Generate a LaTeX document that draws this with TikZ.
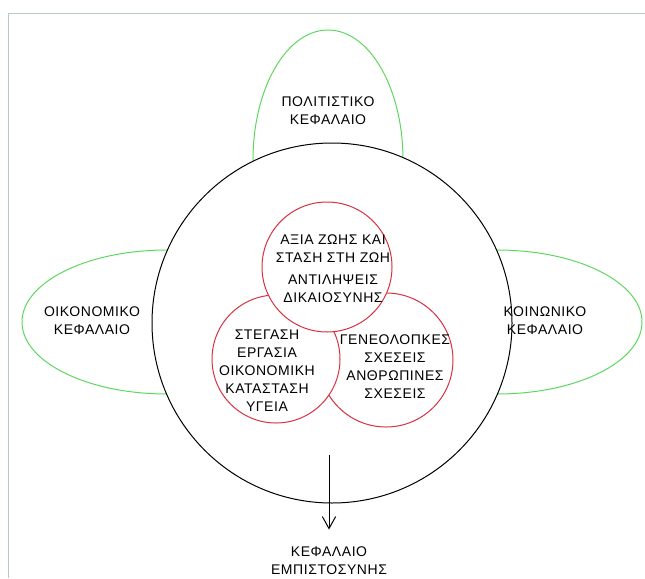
\documentclass[tikz,border=0pt]{standalone}
\usepackage{fontspec}
\setmainfont{Liberation Sans}[LetterSpace=4]
\usetikzlibrary{arrows.meta}

\definecolor{capgreen}{RGB}{95,215,95}
\definecolor{corered}{RGB}{215,50,65}
\definecolor{framegray}{RGB}{180,205,190}

\tikzset{every picture/.style={line width=0.75pt}}
\tikzset{
  lbl/.style={align=center, inner sep=0.75pt, font=\fontsize{10.5}{13.5}\selectfont},
  core/.style={circle, draw=corered, fill=white, inner sep=0pt},
}

\begin{document}
\begin{tikzpicture}[x=0.75pt,y=0.75pt,yscale=-1,xscale=1]
\useasboundingbox (0,0) rectangle (645,578);

%Frame
\draw [framegray] (645,13) -- (8,13) -- (8,578) ;

%Capitals (green)
\draw [capgreen] (328,160) ellipse [x radius=75, y radius=130] ;
\draw [capgreen] (167,322) ellipse [x radius=145, y radius=72] ;
\draw [capgreen] (497,322) ellipse [x radius=145, y radius=72] ;

%Big circle
\node [circle, draw, fill=white, inner sep=0pt, minimum size=270pt] (soc) at (332,323) {};

%Red circles
\node [core, minimum size=100.5pt] (rel) at (386,360) {};
\node [core, minimum size=96pt] (liv) at (276,359) {};
\node [core, minimum size=97.5pt] (val) at (327,267) {};

% Text Node
\node [lbl] (valt) at (333,269) {ΑΞΙΑ ΖΩΗΣ ΚΑΙ\\ΣΤΑΣΗ ΣΤΗ ΖΩΗ\\[3pt]ΑΝΤΙΛΗΨΕΙΣ\\ΔΙΚΑΙΟΣΥΝΗΣ};
% Text Node
\node [lbl] (livt) at (267,371) {ΣΤΕΓΑΣΗ\\ΕΡΓΑΣΙΑ\\ΟΙΚΟΝΟΜΙΚΗ\\ΚΑΤΑΣΤΑΣΗ\\ΥΓΕΙΑ};
% Text Node
\node [lbl] (relt) at (395,367) {ΓΕΝΕΟΛΟΠΚΕΣ\\ΣΧΕΣΕΙΣ\\ΑΝΘΡΩΠΙΝΕΣ\\ΣΧΕΣΕΙΣ};
% Text Node
\node [lbl] (cult) at (328,111) {ΠΟΛΙΤΙΣΤΙΚΟ\\ΚΕΦΑΛΑΙΟ};
% Text Node
\node [lbl] (econ) at (92,321) {ΟΙΚΟΝΟΜΙΚΟ\\ΚΕΦΑΛΑΙΟ};
% Text Node
\node [lbl] (socl) at (545,321) {ΚΟΙΝΩΝΙΚΟ\\ΚΕΦΑΛΑΙΟ};
% Text Node
\node [lbl] (trust) at (329,561) {ΚΕΦΑΛΑΙΟ\\ΕΜΠΙΣΤΟΣΥΝΗΣ};

%Arrow
\coordinate (arrtop) at (329,455);
\draw [-{Straight Barb[length=9pt,width=10pt]}, shorten >=12pt] (arrtop) -- (arrtop |- trust.north) ;

\end{tikzpicture}
\end{document}
